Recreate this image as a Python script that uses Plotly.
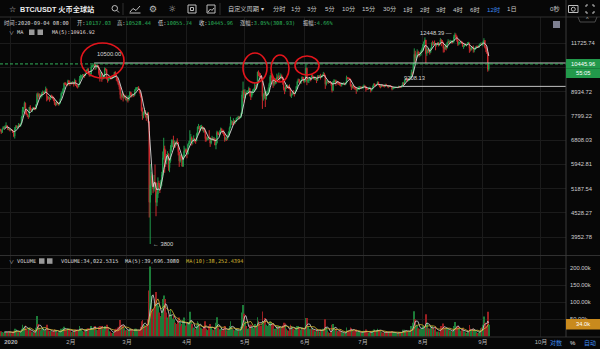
import numpy as np
import pandas as pd
import plotly.graph_objects as go

# ---------------- data: BTC/USDT 12h candles (UTC+8), Huobi ----------------
START = "2019-12-26 20:00"
OPEN_FIRST = 7230.0

# closes, one sub-list per month (Dec-19 partial ... Sep-20 partial)
C_M = [
 [7195, 7110,7242, 7320,7300, 7370,7385, 7330,7220, 7250,7195],
 [7220,7200, 7110,6965, 7250,7345, 7330,7355, 7430,7358, 7480,7758, 8080,8146, 8380,8055, 7880,7818, 7760,8198, 8110,8020, 8100,8185, 8130,8110, 8300,8810, 8700,8821, 8700,8720, 8860,8913, 8880,8916, 9080,8706, 8630,8657, 8560,8745, 8700,8680, 8530,8405, 8300,8440, 8370,8340, 8380,8590, 8850,8900, 9080,9380, 9330,9300, 9280,9510, 9380,9350],
 [9400,9385, 9420,9330, 9520,9290, 9200,9185, 9300,9618, 9700,9755, 9820,9805, 9780,9905, 10080,10165, 9930,9855, 9870,10275, 10330,10355, 10420,10245, 10270,10365, 10250,9905, 9680,9935, 9650,9700, 9720,10180, 10120,9600, 9550,9610, 9700,9690, 9640,9665, 9720,9965, 9800,9650, 9480,9310, 9180,8785, 8700,8820, 8650,8710, 8680,8525],
 [8580,8530, 8700,8915, 8800,8760, 8800,8750, 8990,9070, 9110,9155, 9060,8895, 8720,8035, 7800,7935, 7990,7885, 7720,7935, 7550,4800, 5300,5578, 5350,5172, 5380,5361, 4800,5028, 5350,5312, 5220,5391, 5600,6163, 6500,6198, 6050,6185, 6300,5830, 6050,6481, 6700,6768, 6650,6692, 6650,6759, 6720,6372, 6050,6245, 6150,5881, 6200,6395, 6450,6410],
 [6300,6642, 6700,6794, 6900,6735, 6800,6860, 6800,6772, 7050,7330, 7350,7197, 7300,7360, 7250,7290, 7180,6865, 6850,6880, 6920,6905, 6700,6835, 6880,6850, 6860,6625, 6700,7110, 7060,7030, 7150,7260, 7180,7125, 7050,6830, 6870,6850, 6980,7130, 7300,7485, 7550,7505, 7600,7540, 7560,7700, 7720,7775, 7720,7760, 7900,8780, 9000,8620],
 [8880,8825, 8900,8970, 9100,8890, 8700,8885, 8980,9030, 9180,9150, 9300,9985, 9880,9810, 9700,9540, 8700,8730, 8900,8570, 8800,8815, 9050,9310, 9700,9790, 9500,9315, 9450,9380, 9600,9675, 9650,9730, 9620,9780, 9700,9510, 9100,9065, 9180,9170, 9210,9180, 9100,8720, 8800,8900, 8850,8840, 8980,9205, 9450,9575, 9480,9430, 9520,9700, 9600,9450],
 [9550,10200, 9480,9520, 9560,9665, 9600,9790, 9720,9620, 9640,9670, 9520,9745, 9730,9780, 9700,9775, 9800,9880, 9800,9320, 9450,9475, 9420,9465, 9420,9340, 9000,9425, 9480,9520, 9400,9455, 9400,9380, 9310,9290, 9320,9360, 9380,9285, 9380,9685, 9640,9625, 9600,9290, 9150,9240, 9200,9160, 9100,9010, 9050,9115, 9150,9190, 9130,9135],
 [9200,9230, 9200,9090, 9080,9060, 9110,9130, 9000,9070, 9200,9340, 9280,9250, 9300,9435, 9300,9230, 9180,9290, 9250,9235, 9200,9300, 9260,9240, 9180,9255, 9220,9195, 9080,9130, 9140,9155, 9160,9170, 9150,9210, 9170,9160, 9220,9390, 9320,9525, 9600,9580, 9520,9535, 9620,9700, 9950,9930, 10450,11030, 10800,10910, 11150,11100, 10980,11110, 11200,11350],
 [11650,11800, 11950,11070, 11250,11230, 11300,11185, 11400,11740, 11700,11760, 11720,11600, 11650,11755, 11650,11680, 11950,11880, 11800,11410, 11350,11585, 11420,11780, 11850,11770, 11850,11865, 11800,11910, 12150,12285, 12200,11960, 11700,11755, 11780,11860, 11800,11525, 11550,11680, 11630,11650, 11720,11750, 11400,11330, 11420,11460, 11300,11320, 11450,11530, 11520,11470, 11600,11700, 11720,11650],
 [11800,11920, 11500,11390, 11150,10137.03, 10445.96],
]
H_M = [
 [7260, 7220,7270, 7365,7345, 7400,7525, 7408,7340, 7300,7260],
 [7255,7240, 7212,7120, 7330,7405, 7404,7380, 7496,7460, 7500,7795, 8208,8190, 8455,8410, 8055,7900, 7840,8200, 8286,8140, 8130,8197, 8196,8150, 8340,8880, 8900,8850, 8846,8760, 8920,9000, 8960,8999, 9198,9100, 8724,8700, 8680,8768, 8790,8740, 8682,8560, 8420,8520, 8445,8400, 8420,8600, 8900,8980, 9120,9400, 9430,9400, 9330,9560, 9525,9420],
 [9460,9440, 9485,9440, 9620,9530, 9310,9260, 9340,9760, 9840,9800, 9868,9860, 9870,9950, 10110,10165, 10185,9990, 9940,10385, 10400,10400, 10500,10440, 10330,10380, 10380,10270, 10050,9990, 9960,9800, 9800,10250, 10190,10140, 9700,9680, 9770,9740, 9700,9690, 9760,9990, 10020,9830, 9655,9500, 9370,9200, 8850,8965, 8900,8800, 8790,8700],
 [8750,8620, 8760,8970, 8915,8850, 8840,8820, 9060,9160, 9170,9180, 9220,9080, 8895,8730, 8180,7990, 8150,8060, 7900,7985, 7966,7560, 5955,5700, 5640,5400, 5600,5940, 5365,5100, 5525,5420, 5350,5450, 5700,6389, 6900,6600, 6456,6300, 6400,6320, 6150,6620, 6835,6830, 6980,6800, 6750,6790, 6880,6740, 6379,6290, 6262,6160, 6280,6599, 6525,6480],
 [6500,6680, 6780,7198, 7048,6950, 6870,6995, 6885,6830, 7100,7355, 7459,7380, 7400,7420, 7370,7330, 7295,7200, 6950,6920, 6980,7200, 6905,6880, 6975,6920, 6935,6880, 6760,7180, 7150,7100, 7200,7310, 7270,7210, 7220,7070, 6930,6910, 7020,7150, 7350,7770, 7615,7580, 7700,7620, 7620,7720, 7760,7800, 7795,7790, 7950,8980, 9460,9050],
 [9060,8920, 9010,9000, 9190,9120, 8910,8950, 9060,9100, 9400,9300, 9350,10000, 10070,9950, 9915,9760, 9575,8850, 9170,8950, 8980,8900, 9150,9395, 9800,9930, 9845,9540, 9590,9500, 9650,9890, 9800,9950, 9800,9900, 9840,9720, 9575,9150, 9270,9230, 9300,9250, 9310,9110, 8850,8980, 9017,8900, 9000,9225, 9500,9625, 9605,9500, 9560,9740, 9705,9620],
 [9600,10430, 10230,9580, 9610,9690, 9700,9880, 9850,9760, 9730,9700, 9680,9800, 9800,9795, 9880,9820, 9850,9990, 9940,9820, 9560,9530, 9490,9480, 9490,9440, 9340,9500, 9590,9560, 9560,9500, 9480,9440, 9440,9350, 9400,9390, 9420,9390, 9420,9780, 9700,9680, 9665,9610, 9330,9300, 9280,9230, 9200,9110, 9120,9190, 9230,9220, 9200,9170],
 [9250,9310, 9270,9210, 9125,9100, 9160,9190, 9140,9090, 9250,9350, 9360,9300, 9330,9470, 9450,9320, 9270,9320, 9300,9270, 9260,9345, 9340,9280, 9260,9280, 9275,9240, 9220,9160, 9185,9170, 9190,9185, 9190,9240, 9220,9180, 9260,9430, 9420,9550, 9640,9620, 9635,9600, 9660,9730, 10115,10000, 10500,11400, 11250,11000, 11340,11250, 11175,11160, 11300,11450],
 [11700,11860, 12120,11960, 11480,11350, 11420,11350, 11450,11790, 11900,11820, 11915,11750, 11700,11800, 11810,11720, 12070,12000, 11945,11820, 11500,11680, 11600,11790, 12000,11900, 11960,11930, 11900,11940, 12300,12448.39, 12395,12250, 12020,11850, 11830,11880, 11890,11810, 11600,11690, 11715,11700, 11800,11825, 11770,11450, 11535,11500, 11590,11400, 11500,11560, 11590,11540, 11650,11720, 11800,11760],
 [11850,12070, 11950,11550, 11460,11180, 10528.44],
]
L_M = [
 [7160, 7050,7100, 7238,7280, 7285,7350, 7300,7220, 7195,7150],
 [7180,7175, 7090,6925, 6871,7200, 7290,7273, 7340,7319, 7346,7470, 7723,7950, 8146,7870, 7840,7750, 7671,7740, 8060,7990, 7969,8080, 8090,8055, 8105,8290, 8565,8640, 8650,8600, 8672,8820, 8806,8850, 8910,8466, 8516,8560, 8450,8540, 8640,8580, 8480,8300, 8238,8280, 8320,8265, 8282,8370, 8580,8800, 8860,9050, 9270,9250, 9210,9270, 9300,9225],
 [9330,9302, 9370,9200, 9310,9225, 9150,9100, 9165,9290, 9530,9620, 9720,9700, 9666,9760, 9900,10020, 9860,9730, 9735,9850, 10220,10260, 10300,10100, 10130,10230, 10200,9800, 9460,9600, 9450,9560, 9600,9700, 10060,9580, 9400,9480, 9590,9570, 9580,9600, 9660,9700, 9740,9500, 9420,9270, 9050,8600, 8535,8640, 8460,8590, 8620,8515],
 [8460,8410, 8500,8680, 8700,8650, 8700,8670, 8750,8950, 9010,9080, 9020,8850, 8650,8000, 7630,7700, 7850,7730, 7590,7680, 7500,4410, 3800,5000, 5260,5055, 5100,5250, 4442,4700, 4921,5200, 5060,5180, 5270,5580, 6100,5670, 5860,5950, 6100,5735, 5688,6000, 6380,6550, 6466,6520, 6531,6600, 6650,6250, 5860,6000, 6080,5866, 5855,6170, 6360,6330],
 [6150,6280, 6575,6680, 6750,6605, 6650,6760, 6720,6670, 6766,7000, 7250,7070, 7150,7260, 7180,7110, 7100,6750, 6760,6800, 6810,6850, 6555,6650, 6790,6770, 6780,6615, 6470,6680, 7000,7000, 7020,7130, 7120,7055, 6980,6750, 6790,6780, 6820,6960, 7020,7280, 7420,7400, 7480,7435, 7470,7540, 7650,7690, 7650,7690, 7725,7880, 8750,8400],
 [8620,8760, 8760,8850, 8960,8705, 8530,8650, 8780,8930, 8930,9050, 9050,9280, 9750,9700, 9600,9520, 8115,8500, 8600,8200, 8550,8720, 8790,9000, 9260,9650, 9450,9130, 9220,9300, 9330,9550, 9470,9600, 9470,9600, 9600,9295, 9000,8815, 8940,9080, 9120,9070, 9050,8700, 8630,8760, 8800,8700, 8810,8960, 9110,9400, 9380,9330, 9340,9500, 9550,9375],
 [9420,9530, 9270,9400, 9380,9500, 9470,9580, 9680,9580, 9560,9530, 9380,9500, 9640,9690, 9570,9650, 9690,9760, 9720,9080, 9250,9380, 9330,9380, 9380,9245, 8900,8980, 9370,9420, 9240,9350, 9300,9280, 9240,9200, 9200,9280, 9330,9280, 9280,9370, 9580,9590, 9540,9200, 9020,9100, 9100,9050, 9040,8830, 8940,9020, 9020,9100, 9065,9090],
 [9090,9170, 9150,8940, 9040,9040, 9050,9090, 8900,8960, 9050,9180, 9220,9200, 9235,9290, 9260,9160, 9110,9170, 9200,9180, 9150,9190, 9230,9200, 9115,9170, 9190,9170, 9005,9050, 9090,9110, 9130,9140, 9110,9140, 9140,9130, 9150,9208.13, 9270,9300, 9460,9500, 9460,9480, 9530,9600, 9650,9800, 9920,10400, 10560,10650, 10840,10950, 10840,10900, 10950,11150],
 [11220,11550, 11700,10500, 10930,11100, 11100,11010, 11100,11380, 11580,11620, 11650,11280, 11520,11620, 11520,11560, 11650,11535, 11700,11135, 11150,11330, 11270,11400, 11700,11680, 11690,11780, 11690,11750, 11780,12100, 12050,11830, 11560,11600, 11660,11720, 11680,11510, 11370,11500, 11580,11525, 11600,11680, 11120,11200, 11260,11350, 11130,11150, 11300,11400, 11460,11450, 11460,11570, 11640,11600],
 [11535,11780, 11400,11160, 11050,10000, 10055.74],
]
# volume, thousands
V_M = [
 [14, 15,13, 11,10, 12,15, 13,14, 12,11],
 [8,8, 12,16, 22,20, 12,11, 13,13, 15,22, 34,26, 30,32, 20,16, 18,26, 18,14, 11,12, 11,12, 25,60, 36,25, 20,16, 22,24, 14,16, 24,34, 18,15, 16,16, 14,13, 17,20, 18,17, 11,11, 12,15, 22,20, 24,28, 20,18, 18,24, 20,18],
 [12,12, 14,18, 20,20, 17,16, 18,30, 24,20, 16,14, 16,16, 20,22, 24,22, 18,30, 22,22, 28,30, 20,18, 18,28, 30,26, 30,22, 20,30, 16,34, 26,20, 15,14, 10,10, 12,18, 20,22, 20,26, 28,48, 34,28, 32,24, 16,18],
 [18,18, 18,22, 20,20, 14,14, 22,22, 16,14, 16,18, 28,44, 48,36, 34,30, 32,28, 50,135, 205,120, 80,70, 80,95, 130,95, 90,70, 60,56, 70,110, 120,110, 70,55, 50,62, 60,80, 62,52, 60,50, 40,36, 36,48, 55,42, 30,36, 48,55, 32,28],
 [40,42, 36,72, 44,36, 24,26, 20,20, 34,44, 40,34, 26,24, 22,22, 28,44, 22,18, 18,30, 36,28, 20,18, 18,28, 40,56, 26,20, 20,22, 16,18, 24,30, 18,16, 18,22, 30,44, 28,22, 20,18, 16,20, 20,20, 16,16, 28,70, 92,66],
 [44,30, 22,20, 24,34, 34,28, 24,24, 36,30, 30,56, 46,36, 30,32, 73,42, 44,54, 34,24, 30,34, 44,40, 34,36, 22,18, 22,30, 28,30, 26,26, 24,32, 40,38, 30,22, 18,16, 22,34, 30,24, 22,20, 18,26, 30,30, 24,20, 18,26, 20,24],
 [20,54, 54,30, 22,20, 22,24, 20,18, 14,14, 22,22, 16,14, 20,18, 18,22, 20,50, 26,18, 12,10, 10,14, 34,36, 24,18, 22,16, 14,14, 16,14, 12,10, 8,8, 14,26, 18,14, 14,26, 24,18, 14,16, 12,20, 12,12, 14,12, 12,10],
 [14,16, 14,20, 12,11, 10,11, 14,13, 16,20, 16,14, 16,22, 18,18, 16,14, 11,10, 11,13, 13,13, 13,13, 11,11, 15,13, 11,10, 9,9, 10,11, 11,11, 13,19, 17,19, 16,14, 14,14, 14,16, 30,22, 40,74, 50,34, 30,24, 22,20, 22,24],
 [30,30, 30,65, 40,24, 22,22, 24,30, 26,22, 20,30, 14,14, 14,12, 28,30, 20,38, 26,22, 22,24, 22,18, 16,14, 14,14, 30,42, 24,28, 30,22, 16,14, 18,24, 18,14, 12,10, 14,14, 33,22, 18,14, 22,20, 16,14, 10,10, 10,16, 24,26],
 [34,58, 40,32, 20,72, 34.0225315],
]
MONTH_LEN = [11, 62, 58, 62, 60, 62, 60, 62, 62, 7]
for arr in (C_M, H_M, L_M, V_M):
    for a, n in zip(arr, MONTH_LEN):
        assert len(a) == n, (len(a), n)

C = [v for m in C_M for v in m]
H = [v for m in H_M for v in m]
L = [v for m in L_M for v in m]
V = [v for m in V_M for v in m]
O = [OPEN_FIRST] + C[:-1]
H = list(np.maximum(H, np.maximum(O, C)))
L = list(np.minimum(L, np.minimum(O, C)))
t = pd.date_range(START, periods=len(C), freq="12h")

Y_TICKS = [3952.78, 4528.27, 5187.54, 5942.81, 6808.03, 7799.22, 8934.72, 10235.24, 11725.74]
V_TICKS = [50, 100, 150, 200]
MONTH_TICKS = ["2020-%02d-01 08:00" % m for m in range(1, 11)]
MONTH_LABELS = ["<b>2020</b>", "2月", "3月", "4月", "5月", "6月", "7月", "8月", "9月", "10月"]
RAY_1 = ("2020-02-13 08:00", 10500.00)
RAY_2 = ("2020-07-21 20:00", 9208.13)
XR = ["2019-12-26 16:47", "2020-10-14 06:19"]

# ---------------- styling ----------------
UP, DN = "#1f9a4b", "#cc2a2e"
UPV, DNV = "#1c7b38", "#9a1f22"
BG, GRID, SEP = "#070707", "#1b1b1b", "#303030"
TXT, VAL, BLUE = "#c9c9c9", "#2ab35a", "#3d87ea"
SANS = "Liberation Sans, Noto Sans CJK SC, sans-serif"
MONO = "DejaVu Sans Mono, Noto Sans CJK SC, monospace"

W, HGT = 600, 349
PL, PR, PT, PB = 0, 34, 17, 12
PW, PH = W - PL - PR, HGT - PT - PB


def px(x):
    return (x - PL) / PW


def py(y):
    return (HGT - PB - y) / PH


ma5 = pd.Series(C).rolling(5).mean()
vma5 = pd.Series(V).rolling(5).mean()
vma10 = pd.Series(V).rolling(10).mean()
vcol = [UPV if c >= o else DNV for o, c in zip(O, C)]

fig = go.Figure()
fig.add_trace(go.Candlestick(
    x=t, open=O, high=H, low=L, close=C, xaxis="x", yaxis="y",
    increasing=dict(line=dict(color=UP, width=1), fillcolor=UP),
    decreasing=dict(line=dict(color=DN, width=1), fillcolor=DN),
    whiskerwidth=0, hoverinfo="none", showlegend=False))
fig.add_trace(go.Scatter(x=t, y=ma5, mode="lines", xaxis="x", yaxis="y",
                         line=dict(color="#dedada", width=0.9), hoverinfo="skip"))
fig.add_trace(go.Bar(x=t, y=V, xaxis="x2", yaxis="y2", marker=dict(color=vcol, line=dict(width=0)),
                     width=0.8 * 12 * 3600 * 1000, hoverinfo="skip"))
fig.add_trace(go.Scatter(x=t, y=vma5, mode="lines", xaxis="x2", yaxis="y2",
                         line=dict(color="#d8d8d8", width=0.8), hoverinfo="skip"))
fig.add_trace(go.Scatter(x=t, y=vma10, mode="lines", xaxis="x2", yaxis="y2",
                         line=dict(color="#d2b431", width=0.8), hoverinfo="skip"))

main_bottom = py(255)
vol_top = py(256)

shapes = []
ann = []


def line_px(x0, y0, x1, y1, color=SEP, width=1, dash=None):
    shapes.append(dict(type="line", xref="paper", yref="paper", x0=px(x0), y0=py(y0), x1=px(x1), y1=py(y1),
                       line=dict(color=color, width=width, dash=dash), layer="above"))


def rect_px(x0, y0, x1, y1, fill=None, color=None, width=1):
    shapes.append(dict(type="rect", xref="paper", yref="paper", x0=px(x0), y0=py(y0), x1=px(x1), y1=py(y1),
                       fillcolor=fill, line=dict(color=color or "rgba(0,0,0,0)", width=width if color else 0),
                       layer="above"))


def ell_px(x0, y0, x1, y1, color="#e3151c", width=1.6):
    shapes.append(dict(type="circle", xref="paper", yref="paper", x0=px(x0), y0=py(y0), x1=px(x1), y1=py(y1),
                       line=dict(color=color, width=width), layer="above"))


def path_px(pts, color="#bdbdbd", width=1):
    d = ""
    for seg in pts:
        d += "M" + " L".join("%f,%f" % (px(a), py(b)) for a, b in seg) + " "
    shapes.append(dict(type="path", xref="paper", yref="paper", path=d.strip(),
                       line=dict(color=color, width=width), layer="above"))


def txt(x, y, s, size=6, color=TXT, anchor="left", family=SANS):
    ann.append(dict(xref="paper", yref="paper", x=px(x), y=py(y), text=s, showarrow=False,
                    xanchor=anchor, yanchor="middle", font=dict(size=size, color=color, family=family),
                    borderpad=0))


# level rays & last price line (data coordinates)
for d0, lv in (RAY_1, RAY_2):
    shapes.append(dict(type="line", xref="x", yref="y", x0=d0, x1=XR[1], y0=lv, y1=lv,
                       line=dict(color="#c2c2c2", width=1)))
shapes.append(dict(type="line", xref="paper", yref="y", x0=0, x1=1, y0=C[-1], y1=C[-1],
                   line=dict(color="#33b05a", width=1, dash="3px,2px")))
ann.append(dict(xref="x", yref="y", x=RAY_1[0], y=np.log10(RAY_1[1]), text="%.2f" % RAY_1[1],
                showarrow=False, xanchor="left", yanchor="middle", yshift=9, xshift=1,
                font=dict(size=5.8, color="#d6d6d6", family=SANS)))
ann.append(dict(xref="x", yref="y", x=RAY_2[0], y=np.log10(RAY_2[1]), text="%.2f" % RAY_2[1],
                showarrow=False, xanchor="left", yanchor="middle", yshift=8, xshift=-1,
                font=dict(size=5.8, color="#d6d6d6", family=SANS)))
imax = int(np.argmax(H))
imin = int(np.argmin(L))
ann.append(dict(xref="x", yref="y", x=t[imax], y=np.log10(H[imax]), text="%.2f —" % H[imax],
                showarrow=False, xanchor="right", yanchor="middle", xshift=-1,
                font=dict(size=5.8, color="#d6d6d6", family=SANS)))
ann.append(dict(xref="x", yref="y", x=t[imin], y=np.log10(L[imin]), text="← %g" % L[imin],
                showarrow=False, xanchor="left", yanchor="middle", xshift=1,
                font=dict(size=5.8, color="#d6d6d6", family=SANS)))

# hand-drawn red circles
ell_px(81, 43, 124, 78)
ell_px(243, 53, 267, 83)
ell_px(271, 55, 289, 82)
ell_px(295, 56, 319, 75)

# frame lines
line_px(0, 17, 600, 17)
line_px(0, 255.5, 600, 255.5)
line_px(0, 337, 600, 337)
line_px(566, 0, 566, 337, color="#3a3a3a")
line_px(123, 3, 123, 15)
line_px(220, 3, 220, 15)

# price & volume tags
rect_px(566, 59, 600, 78, fill="#22994b")
line_px(566, 68.5, 600, 68.5, color="#1b7f3d")
txt(583, 64, "%.2f" % C[-1], size=5.8, color="#ffffff", anchor="center")
txt(583, 73.5, "55:05", size=5.8, color="#ffffff", anchor="center")
rect_px(566, 319, 600, 329.5, fill="#c98a1d")
txt(583, 324.3, "%.1fk" % V[-1], size=5.8, color="#ffffff", anchor="center")

# toolbar
txt(12, 9, "☆", size=8, color="#d0d0d0", anchor="center", family="DejaVu Sans")
txt(18.5, 9, "<b>BTC/USDT 火币全球站</b>", size=7.2, color="#ececec")
shapes.append(dict(type="circle", xref="paper", yref="paper", x0=px(112), y0=py(5.5), x1=px(117.5), y1=py(11),
                   line=dict(color="#bdbdbd", width=1), layer="above"))
path_px([[(116.8, 10.3), (119, 12.5)]])
path_px([[(130, 12), (133, 8.5), (136, 10.5), (140, 6)], [(129.5, 13), (140.5, 13)]])
txt(153, 9, "⚙", size=9, color="#bdbdbd", anchor="center", family="DejaVu Sans")
txt(172, 9, "☼", size=9, color="#bdbdbd", anchor="center", family="DejaVu Sans")
rect_px(188, 5, 196, 13, color="#bdbdbd")
rect_px(190.5, 7.5, 193.5, 10.5, color="#bdbdbd")
rect_px(207, 5, 215, 13, color="#bdbdbd")
path_px([[(208, 12), (210.5, 9), (212, 10.5), (214, 8)]])
txt(227, 9, "自定义周期 ▾", size=6.2, color=TXT)
periods = [(279, "分时"), (296, "1分"), (312, "3分"), (330, "5分"), (348, "10分"), (368, "15分"),
           (389, "30分"), (408, "1时"), (425, "2时"), (441, "3时"), (458, "4时"), (475, "6时"),
           (493, "12时"), (512, "1日")]
for xc, s in periods:
    txt(xc, 9, s, size=6.2, color=BLUE if s == "12时" else TXT, anchor="center")
txt(555, 9, "0秒", size=6.2, color=TXT, anchor="center")
rect_px(568.5, 5.5, 578, 12.5, color="#bdbdbd")
shapes.append(dict(type="circle", xref="paper", yref="paper", x0=px(571.3), y0=py(7.2), x1=px(575.3), y1=py(11.2),
                   line=dict(color="#bdbdbd", width=1), layer="above"))
path_px([[(586, 7), (586, 5), (588, 5)], [(592, 5), (594, 5), (594, 7)],
         [(586, 11), (586, 13), (588, 13)], [(592, 13), (594, 13), (594, 11)]])
path_px([[(578, 17), (580, 22), (595, 22), (597, 17)]], color="#4a4a4a")
txt(587.5, 19.3, "^", size=5.5, color="#bdbdbd", anchor="center")
rect_px(553, 21, 560, 28, fill="#7d7f90")

# info line (OHLC of the last candle), placed field by field
G = lambda s: "<span style='color:%s'>%s</span>" % (VAL, s)
chg = C[-1] - O[-1]
fields = [
    (3, "时间:2020-09-04 08:00"),
    (75.5, "开:" + G("%.2f" % O[-1])),
    (116.4, "高:" + G("%.2f" % H[-1])),
    (157.3, "低:" + G("%.2f" % L[-1])),
    (198.2, "收:" + G("%.2f" % C[-1])),
    (239.1, "涨幅:" + G("%.2f%%(%.2f)" % (chg / O[-1] * 100, chg))),
    (302, "振幅:" + G("%.2f%%" % ((H[-1] - L[-1]) / O[-1] * 100))),
]
for xf, s in fields:
    txt(xf, 23.5, s, size=5.3, color="#d8d8d8", family=MONO)
txt(7.5, 32, "∨", size=5, color="#bdbdbd", family=SANS)
txt(15.5, 32, "MA", size=5.3, color="#d8d8d8", family=MONO)
rect_px(29, 29.5, 34.5, 35, fill="#9a9a9a")
rect_px(37.5, 29.5, 43, 35, fill="#9a9a9a")
txt(51, 32, "MA(5):10916.92", size=5.1, color="#e2dede", family=MONO)

txt(7.5, 261, "∨", size=5, color="#bdbdbd", family=SANS)
txt(15.5, 261, "VOLUME", size=5.3, color="#d8d8d8", family=MONO)
rect_px(39, 258.3, 44.5, 263.8, fill="#9a9a9a")
rect_px(47, 258.3, 52.5, 263.8, fill="#9a9a9a")
txt(60, 261, "VOLUME:{:,.4f}".format(V[-1] * 1000), size=5.3, color="#d8d8d8", family=MONO)
txt(124, 261, "MA(5):39,696.3080", size=5.3, color="#d8d8d8", family=MONO)
txt(185, 261, "MA(10):38,252.4394", size=5.3, color="#d2b431", family=MONO)

# bottom right controls
txt(556, 343, "对数", size=6, color=BLUE, anchor="center")
txt(573, 343, "%", size=6, color="#e0e0e0", anchor="center")
txt(590, 343, "自动", size=6, color=BLUE, anchor="center")

fig.update_layout(
    width=W, height=HGT, margin=dict(l=PL, r=PR, t=PT, b=PB),
    paper_bgcolor=BG, plot_bgcolor=BG, showlegend=False, dragmode=False,
    xaxis=dict(domain=[0, 1], anchor="y", type="date", range=XR, tickvals=MONTH_TICKS,
               showticklabels=False, showgrid=True, gridcolor=GRID, gridwidth=1, zeroline=False,
               showline=False, ticks="", rangeslider=dict(visible=False)),
    xaxis2=dict(domain=[0, 1], anchor="y2", type="date", range=XR, tickvals=MONTH_TICKS,
                ticktext=MONTH_LABELS, showgrid=True, gridcolor=GRID, gridwidth=1, zeroline=False,
                showline=False, ticks="", tickfont=dict(size=6, color="#b5b5b5", family=SANS),
                rangeslider=dict(visible=False)),
    yaxis=dict(domain=[main_bottom, 1], anchor="x", type="log", side="right",
               range=[np.log10(3573), np.log10(13594)], tickvals=Y_TICKS,
               ticktext=["" if v == 10235.24 else "%.2f" % v for v in Y_TICKS],
               showgrid=True, gridcolor=GRID, gridwidth=1, zeroline=False, showline=False, ticks="",
               tickfont=dict(size=5.8, color="#cfcfcf", family=SANS), ticklabelstandoff=4),
    yaxis2=dict(domain=[0, vol_top], anchor="x2", side="right", range=[-2.06, 236.2],
                tickvals=V_TICKS, ticktext=["%.2fk" % v for v in V_TICKS],
                showgrid=True, gridcolor=GRID, gridwidth=1, zeroline=False, showline=False, ticks="",
                tickfont=dict(size=5.8, color="#cfcfcf", family=SANS), ticklabelstandoff=3),
    shapes=shapes, annotations=ann,
)

fig.write_html("out.html", config={"displayModeBar": False})
